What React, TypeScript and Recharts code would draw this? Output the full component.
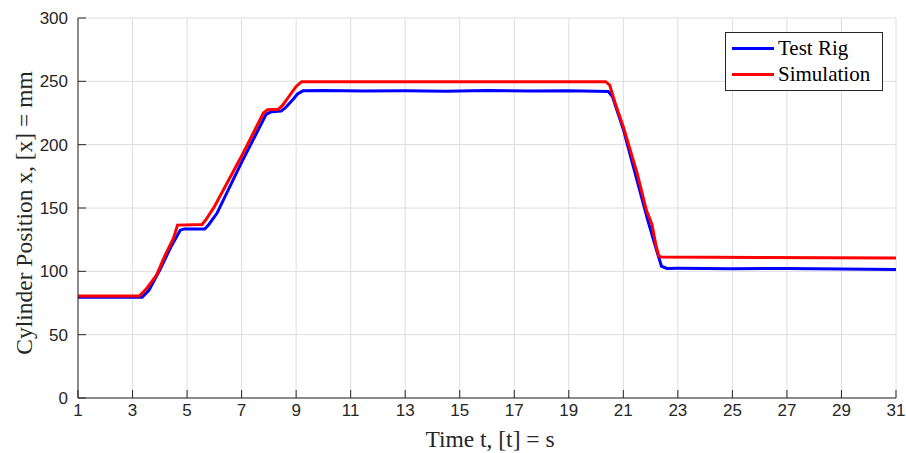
import React from "react";
import { LineChart, Line, CartesianGrid, XAxis, YAxis, Legend } from "recharts";

// time stamps [s] and positions [mm]
const simT = [1, 3.25, 3.5, 3.88, 4.2, 4.5, 4.65, 5.55, 5.7, 6.0, 7.0, 7.8, 7.95, 8.35, 8.5, 8.8, 9.0, 9.2, 20.35, 20.5, 20.7, 21.0, 21.5, 21.85, 22.05, 22.2, 22.3, 22.4, 26, 31];
const simX = [80.5, 80.5, 86, 97, 113, 126, 136.5, 137, 141, 151, 191, 225, 227.5, 228, 231, 240, 246, 249.7, 249.7, 247, 233, 214, 178, 148, 137, 120, 112, 111.3, 111, 110.5];

const rigT = [1, 3.35, 3.6, 4.0, 4.4, 4.75, 4.9, 5.65, 5.8, 6.1, 7.0, 7.9, 8.1, 8.45, 8.6, 8.9, 9.05, 9.25, 10, 11.5, 13, 14.5, 16, 17.5, 19, 20.45, 20.6, 21.0, 21.5, 21.9, 22.2, 22.4, 22.6, 23, 25, 27, 29, 31];
const rigX = [79.5, 79.5, 85, 101, 119, 132.5, 133.5, 133.5, 137, 146, 186, 224, 226, 226.5, 229, 236, 240, 242.5, 242.8, 242.3, 242.6, 242.2, 242.7, 242.4, 242.6, 242, 238, 212, 172, 140, 118, 104, 102.3, 102.4, 102, 102.3, 101.8, 101.5];

const xTicks = [1, 3, 5, 7, 9, 11, 13, 15, 17, 19, 21, 23, 25, 27, 29, 31];
const yTicks = [0, 50, 100, 150, 200, 250, 300];

const seriesNames = ["Test Rig", "Simulation"];
const seriesColors = ["#0000ff", "#ff0000"];

const simData = simT.map((t, i) => ({ t, x: simX[i] }));
const rigData = rigT.map((t, i) => ({ t, x: rigX[i] }));

const axisColor = "#262626";
const tickFont = { fontFamily: "Liberation Sans, Arial, sans-serif", fontSize: 17, fill: axisColor };
const serif = "Liberation Serif, Times New Roman, serif";

function LegendBox() {
  return (
    <div
      style={{
        border: `1px solid ${axisColor}`,
        background: "#fff",
        padding: "2px 6px 3px 6px",
        fontFamily: serif,
        fontSize: 21,
        color: "#000",
        lineHeight: "26px",
      }}
    >
      {seriesNames.map((name, i) => (
        <div key={name} style={{ display: "flex", alignItems: "center", whiteSpace: "nowrap" }}>
          <span style={{ display: "inline-block", width: 42, height: 3, background: seriesColors[i], marginRight: 4 }} />
          <span>{name}</span>
        </div>
      ))}
    </div>
  );
}

export default function App() {
  return (
    <div style={{ position: "absolute", left: 0, top: 0, width: 906, height: 453, background: "#fff" }}>
      <LineChart width={906} height={453} margin={{ top: 18, right: 10, bottom: 0, left: 0 }}>
        <CartesianGrid stroke="#dedede" strokeWidth={1} />
        <XAxis
          dataKey="t"
          type="number"
          domain={[1, 31]}
          ticks={xTicks}
          allowDataOverflow
          height={55}
          stroke={axisColor}
          tickSize={-8}
          tickMargin={14}
          tick={tickFont}
          label={{
            content: () => (
              <text x={490} y={447} textAnchor="middle" fontFamily={serif} fontSize={23.5} fill={axisColor}>
                Time t, [t] = s
              </text>
            ),
          }}
        />
        <XAxis
          xAxisId="top"
          orientation="top"
          type="number"
          domain={[1, 31]}
          ticks={xTicks}
          height={0}
          stroke={axisColor}
          tickSize={-8}
          tick={() => <g />}
        />
        <YAxis
          type="number"
          domain={[0, 300]}
          ticks={yTicks}
          width={78}
          stroke={axisColor}
          tickSize={-8}
          tickMargin={18}
          tick={tickFont}
          label={{
            content: () => (
              <text
                x={32}
                y={213}
                textAnchor="middle"
                transform="rotate(-90 32 213)"
                fontFamily={serif}
                fontSize={23.5}
                fill={axisColor}
              >
                Cylinder Position x, [x] = mm
              </text>
            ),
          }}
        />
        <YAxis
          yAxisId="right"
          orientation="right"
          type="number"
          domain={[0, 300]}
          ticks={yTicks}
          width={0}
          stroke={axisColor}
          tickSize={-8}
          tick={() => <g />}
        />
        <Legend
          layout="horizontal"
          verticalAlign="middle"
          align="center"
          content={() => <LegendBox />}
          wrapperStyle={{ left: 725, top: 32, width: 158 }}
        />
        <Line
          data={rigData}
          dataKey="x"
          name={seriesNames[0]}
          type="linear"
          stroke={seriesColors[0]}
          strokeWidth={3}
          dot={false}
          isAnimationActive={false}
        />
        <Line
          data={simData}
          dataKey="x"
          name={seriesNames[1]}
          type="linear"
          stroke={seriesColors[1]}
          strokeWidth={3}
          dot={false}
          isAnimationActive={false}
        />
      </LineChart>
    </div>
  );
}
